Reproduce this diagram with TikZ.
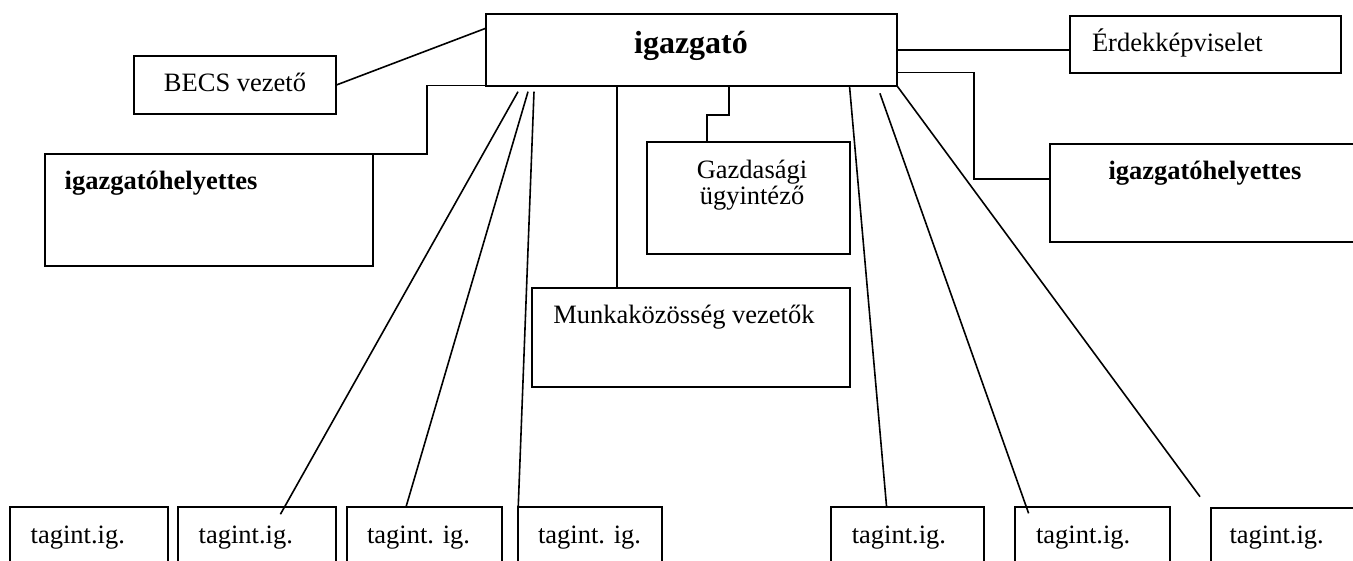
\documentclass[tikz,border=0pt]{standalone}
\usepackage{fontspec}
\setmainfont{Liberation Serif}
\begin{document}
\begin{tikzpicture}[x=1pt,y=-1pt,
  box/.style={draw, line width=2pt, rectangle, outer sep=0pt, inner sep=0pt, anchor=north west},
  conn/.style={line width=1.6pt},
  txt/.style={inner sep=0pt, outer sep=0pt, font=\fontsize{26.5}{30}\selectfont},
  btxt/.style={inner sep=0pt, outer sep=0pt, font=\fontsize{26.5}{30}\selectfont\bfseries}]
\useasboundingbox (0,0) rectangle (1353,561);
\clip (0,0) rectangle (1353,561);
\fill[white] (0,0) rectangle (1353,561);

% boxes
\node[box, minimum width=411.2pt, minimum height=71.7pt] (ig) at (485.7,14) {};
\node[box, minimum width=202pt, minimum height=58.3pt] (becs) at (134,56) {};
\node[box, minimum width=271pt, minimum height=57.6pt] (erdek) at (1069.6,15.7) {};
\node[box, minimum width=328.6pt, minimum height=111.7pt] (ighL) at (44.6,154) {};
\node[box, minimum width=330pt, minimum height=97.7pt] (ighR) at (1050.4,144) {};
\node[box, minimum width=202.3pt, minimum height=112.3pt] (gazd) at (647.3,141.7) {};
\node[box, minimum width=317.7pt, minimum height=98.4pt] (munka) at (532.3,288.3) {};
\node[box, minimum width=158.5pt, minimum height=80pt] (b1) at (9.8,507) {};
\node[box, minimum width=158.5pt, minimum height=80pt] (b2) at (177.7,507) {};
\node[box, minimum width=155.3pt, minimum height=80pt] (b3) at (346.9,507) {};
\node[box, minimum width=144.1pt, minimum height=80pt] (b4) at (517.9,507) {};
\node[box, minimum width=152.7pt, minimum height=80pt] (b5) at (830.8,507) {};
\node[box, minimum width=155.3pt, minimum height=80pt] (b6) at (1014.7,507) {};
\node[box, minimum width=160pt, minimum height=80pt] (b7) at (1211,507.7) {};

% texts
\node[btxt, font=\fontsize{32}{36}\selectfont\bfseries, anchor=base] (igt) at (691,54) {igazgató};
\node[txt, anchor=base] (becst) at (235,92) {BECS vezető};
\node[txt, anchor=base west] (erdekt) at (1092,52) {Érdekképviselet};
\node[btxt, anchor=base west] (ighLt) at (64.7,190) {igazgatóhelyettes};
\node[btxt, anchor=base west] (ighRt) at (1108.5,180) {igazgatóhelyettes};
\node[txt, anchor=base] (gazdt1) at (752,178.3) {Gazdasági};
\node[txt, anchor=base] (gazdt2) at (752,204.5) {ügyintéző};
\node[txt, anchor=base west] (munkat) at (553.3,323.3) {Munkaközösség vezetők};
\node[txt, anchor=base west] (b1t) at (30.7,543.3) {tagint.ig.};
\node[txt, anchor=base west] (b2t) at (198.7,543.3) {tagint.ig.};
\node[txt, anchor=base west] (b3t) at (367,543.3) {tagint. ig.};
\node[txt, anchor=base west] (b4t) at (538,543.3) {tagint. ig.};
\node[txt, anchor=base west] (b5t) at (851.8,543.3) {tagint.ig.};
\node[txt, anchor=base west] (b6t) at (1036,543.3) {tagint.ig.};
\node[txt, anchor=base west] (b7t) at (1229.5,543.3) {tagint.ig.};

% connectors
\draw[conn] (becs.east) -- ([yshift=-14.3pt]ig.north west);
\draw[conn] (ighL.north east) -- ++(54,0) |- (ig.south west);
\draw[conn] ([xshift=243.3pt]ig.south west) -- ++(0,29.3) -| ([xshift=59.8pt]gazd.north west);
\draw[conn] (ig.east) -- (ig.east -| erdek.west);
\draw[conn] ([yshift=13pt]ig.south east) -- ++(76.8,0) |- ([yshift=-35pt]ighR.north west);
\coordinate (m1) at ([xshift=84.4pt]munka.north west);
\draw[conn] (m1) -- (m1 |- ig.south);

\draw[conn] ([xshift=32.3pt,yshift=-6pt]ig.south west) -- ([xshift=102.7pt,yshift=-7.3pt]b2.north west);
\draw[conn] ([xshift=42.3pt,yshift=-6pt]ig.south west) -- ([xshift=59.1pt]b3.north west);
\draw[conn] ([xshift=48.3pt,yshift=-6pt]ig.south west) -- ([xshift=0.1pt,yshift=-6pt]b4.north west);
\draw[conn] ([xshift=-47.3pt,yshift=-1.3pt]ig.south east) -- ([xshift=55.8pt]b5.north west);
\draw[conn] ([xshift=-17pt,yshift=-7.6pt]ig.south east) -- ([xshift=13.9pt,yshift=-6.3pt]b6.north west);
\draw[conn] (ig.south east) -- ([xshift=-11pt,yshift=11pt]b7.north west);
\end{tikzpicture}
\end{document}
